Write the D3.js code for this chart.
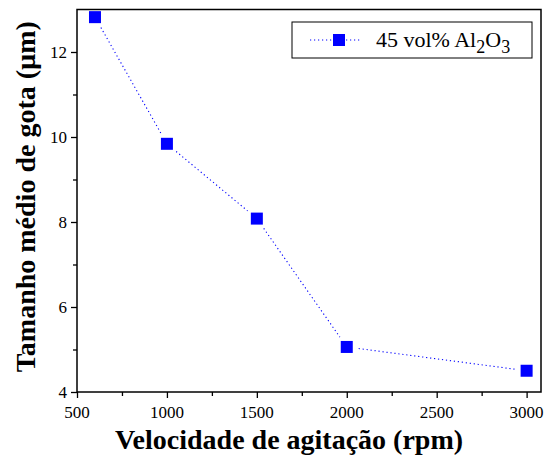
<!DOCTYPE html>
<html>
<head>
<meta charset="utf-8">
<script src="https://cdn.jsdelivr.net/npm/d3@7"></script>
</head>
<body style="margin:0">
<svg id="chart" width="547" height="462"></svg>
<script>
// data
const speeds = [600, 1000, 1500, 2000, 3000];
const dropSize = [12.82, 9.84, 8.08, 5.06, 4.5];
const xTicks = [500, 1000, 1500, 2000, 2500, 3000];
const yTicks = [4, 6, 8, 10, 12];

const FONT = "Liberation Serif";

const margin = {top: 9.5, right: 6, bottom: 70, left: 77},
      width = 547 - margin.left - margin.right,
      height = 462 - margin.top - margin.bottom;

const svg = d3.select("#chart");
svg.append("rect").attr("width", 547).attr("height", 462).attr("fill", "#fff");
const g = svg.append("g")
  .attr("transform", "translate(" + margin.left + "," + margin.top + ")");

const x = d3.scaleLinear().domain([500, 3080]).range([0, width]);
const y = d3.scaleLinear().domain([4, 13]).range([height, 0]);

// minor ticks
g.append("g")
  .attr("transform", "translate(0," + height + ")")
  .call(d3.axisBottom(x).tickValues(d3.range(750, 3000, 500)).tickSize(4).tickFormat(""))
  .call(a => a.select(".domain").remove());
g.append("g")
  .call(d3.axisLeft(y).tickValues(d3.range(5, 13, 2)).tickSize(4).tickFormat(""))
  .call(a => a.select(".domain").remove());

// major ticks (labels drawn separately below)
g.append("g")
  .attr("transform", "translate(0," + height + ")")
  .call(d3.axisBottom(x).tickValues(xTicks).tickFormat("").tickSize(6).tickSizeOuter(0))
  .call(a => a.select(".domain").remove());
g.append("g")
  .call(d3.axisLeft(y).tickValues(yTicks).tickFormat("").tickSize(6).tickSizeOuter(0))
  .call(a => a.select(".domain").remove());
g.selectAll(".tick line").attr("stroke-width", 1.3);

g.selectAll("text.xlab").data(xTicks).enter().append("text")
  .attr("class", "xlab")
  .attr("x", d => x(d)).attr("y", height + 26)
  .attr("text-anchor", "middle")
  .attr("font-family", FONT).attr("font-size", "17px").attr("fill", "#000")
  .text(d => d);
g.selectAll("text.ylab").data(yTicks).enter().append("text")
  .attr("class", "ylab")
  .attr("x", -10).attr("y", d => y(d) + 6)
  .attr("text-anchor", "end")
  .attr("font-family", FONT).attr("font-size", "17px").attr("fill", "#000")
  .text(d => d);

// frame
g.append("rect")
  .attr("width", width).attr("height", height)
  .attr("fill", "none").attr("stroke", "#000").attr("stroke-width", 1.5);

// dotted connecting line, stopping short of the markers
const pts = speeds.map((s, i) => [x(s), y(dropSize[i])]);
const gap = 12;
for (let i = 0; i < pts.length - 1; i++) {
  const [x0, y0] = pts[i], [x1, y1] = pts[i + 1];
  const len = Math.hypot(x1 - x0, y1 - y0);
  const ux = (x1 - x0) / len, uy = (y1 - y0) / len;
  g.append("line")
    .attr("x1", x0 + ux * gap).attr("y1", y0 + uy * gap)
    .attr("x2", x1 - ux * gap).attr("y2", y1 - uy * gap)
    .attr("stroke", "#0000ff").attr("stroke-width", 1.1)
    .attr("stroke-dasharray", "1.2,2.8");
}

// markers
const ms = 12;
g.selectAll("rect.pt").data(speeds).enter().append("rect")
  .attr("class", "pt")
  .attr("x", d => x(d) - ms / 2)
  .attr("y", (d, i) => y(dropSize[i]) - ms / 2)
  .attr("width", ms).attr("height", ms)
  .attr("fill", "#0000ff");

// legend
const lg = svg.append("g").attr("transform", "translate(292,22)");
lg.append("rect").attr("width", 240).attr("height", 36)
  .attr("fill", "#fff").attr("stroke", "#000").attr("stroke-width", 1);
lg.append("line").attr("x1", 18).attr("x2", 70).attr("y1", 18).attr("y2", 18)
  .attr("stroke", "#0000ff").attr("stroke-width", 1.1).attr("stroke-dasharray", "1.2,2.8");
lg.append("rect").attr("x", 41).attr("y", 12).attr("width", ms).attr("height", ms).attr("fill", "#0000ff");
const lt = lg.append("text").attr("x", 84).attr("y", 25)
  .attr("font-family", FONT).attr("font-size", "22px");
lt.append("tspan").text("45 vol% Al");
lt.append("tspan").text("2").attr("dy", 6).attr("font-size", "18px");
lt.append("tspan").text("O").attr("dy", -6);
lt.append("tspan").text("3").attr("dy", 6).attr("font-size", "18px");

// axis titles
svg.append("text")
  .attr("x", margin.left + width / 2 - 20).attr("y", 449)
  .attr("text-anchor", "middle")
  .attr("font-family", FONT).attr("font-size", "28px").attr("font-weight", "bold")
  .text("Velocidade de agitação (rpm)");
svg.append("text")
  .attr("transform", "translate(35," + (margin.top + height / 2 - 4) + ") rotate(-90)")
  .attr("text-anchor", "middle")
  .attr("font-family", FONT).attr("font-size", "28px").attr("font-weight", "bold")
  .text("Tamanho médio de gota (µm)");
</script>
</body>
</html>
